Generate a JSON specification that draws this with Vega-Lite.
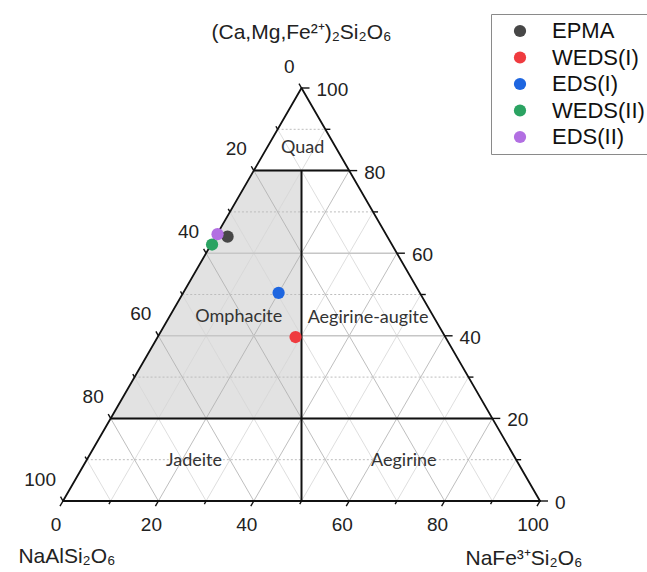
{
  "$schema": "https://vega.github.io/schema/vega-lite/v6.json",
  "width": 477,
  "height": 413,
  "autosize": {"type": "none"},
  "padding": {"left": 63, "top": 88, "right": 107, "bottom": 71},
  "background": "white",
  "config": {
    "view": {"stroke": null},
    "legend": {"strokeWidth": 1}
  },
  "datasets": {
    "points": [
      {"method": "EPMA", "Q": 64.0, "Ae": 2.5, "Jd": 33.5},
      {"method": "WEDS(I)", "Q": 39.7, "Ae": 28.9, "Jd": 31.4},
      {"method": "EDS(I)", "Q": 50.4, "Ae": 20.0, "Jd": 29.6},
      {"method": "WEDS(II)", "Q": 62.1, "Ae": 0.2, "Jd": 37.7},
      {"method": "EDS(II)", "Q": 64.6, "Ae": 0.1, "Jd": 35.3}
    ],
    "omphaciteField": [
      {"Q": 20, "Ae": 0},
      {"Q": 80, "Ae": 0}
    ],
    "hmaj": [
      {"q1": 20, "a1": 0, "q2": 20, "a2": 80},
      {"q1": 40, "a1": 0, "q2": 40, "a2": 60},
      {"q1": 60, "a1": 0, "q2": 60, "a2": 40},
      {"q1": 80, "a1": 0, "q2": 80, "a2": 20}
    ],
    "hmin": [
      {"q1": 10, "a1": 0, "q2": 10, "a2": 90},
      {"q1": 30, "a1": 0, "q2": 30, "a2": 70},
      {"q1": 50, "a1": 0, "q2": 50, "a2": 50},
      {"q1": 70, "a1": 0, "q2": 70, "a2": 30},
      {"q1": 90, "a1": 0, "q2": 90, "a2": 10}
    ],
    "dmaj": [
      {"q1": 0, "a1": 20, "q2": 80, "a2": 20},
      {"q1": 0, "a1": 40, "q2": 60, "a2": 40},
      {"q1": 0, "a1": 60, "q2": 40, "a2": 60},
      {"q1": 0, "a1": 80, "q2": 20, "a2": 80},
      {"q1": 0, "a1": 80, "q2": 80, "a2": 0},
      {"q1": 0, "a1": 60, "q2": 60, "a2": 0},
      {"q1": 0, "a1": 40, "q2": 40, "a2": 0},
      {"q1": 0, "a1": 20, "q2": 20, "a2": 0}
    ],
    "dmin": [
      {"q1": 0, "a1": 10, "q2": 90, "a2": 10},
      {"q1": 0, "a1": 30, "q2": 70, "a2": 30},
      {"q1": 0, "a1": 50, "q2": 50, "a2": 50},
      {"q1": 0, "a1": 70, "q2": 30, "a2": 70},
      {"q1": 0, "a1": 90, "q2": 10, "a2": 90},
      {"q1": 0, "a1": 90, "q2": 90, "a2": 0},
      {"q1": 0, "a1": 70, "q2": 70, "a2": 0},
      {"q1": 0, "a1": 50, "q2": 50, "a2": 0},
      {"q1": 0, "a1": 30, "q2": 30, "a2": 0},
      {"q1": 0, "a1": 10, "q2": 10, "a2": 0}
    ],
    "fieldBoundaries": [
      {"q1": 80, "a1": 0, "q2": 80, "a2": 20},
      {"q1": 20, "a1": 0, "q2": 20, "a2": 80},
      {"q1": 80, "a1": 10, "q2": 0, "a2": 50}
    ],
    "frame": [
      {"q1": 0, "a1": 0, "q2": 0, "a2": 100},
      {"q1": 0, "a1": 100, "q2": 100, "a2": 0},
      {"q1": 100, "a1": 0, "q2": 0, "a2": 0}
    ],
    "bottomTicks": [
      {"Q": 0, "Ae": 0}, {"Q": 0, "Ae": 10}, {"Q": 0, "Ae": 20}, {"Q": 0, "Ae": 30},
      {"Q": 0, "Ae": 40}, {"Q": 0, "Ae": 50}, {"Q": 0, "Ae": 60}, {"Q": 0, "Ae": 70},
      {"Q": 0, "Ae": 80}, {"Q": 0, "Ae": 90}, {"Q": 0, "Ae": 100}
    ],
    "rightTicks": [
      {"Q": 0, "Ae": 100}, {"Q": 10, "Ae": 90}, {"Q": 20, "Ae": 80}, {"Q": 30, "Ae": 70},
      {"Q": 40, "Ae": 60}, {"Q": 50, "Ae": 50}, {"Q": 60, "Ae": 40}, {"Q": 70, "Ae": 30},
      {"Q": 80, "Ae": 20}, {"Q": 90, "Ae": 10}, {"Q": 100, "Ae": 0}
    ],
    "leftTicks": [
      {"Q": 0, "Ae": 0}, {"Q": 10, "Ae": 0}, {"Q": 20, "Ae": 0}, {"Q": 30, "Ae": 0},
      {"Q": 40, "Ae": 0}, {"Q": 50, "Ae": 0}, {"Q": 60, "Ae": 0}, {"Q": 70, "Ae": 0},
      {"Q": 80, "Ae": 0}, {"Q": 90, "Ae": 0}, {"Q": 100, "Ae": 0}
    ],
    "bottomLabels": [
      {"Q": 0, "Ae": 0}, {"Q": 0, "Ae": 20}, {"Q": 0, "Ae": 40},
      {"Q": 0, "Ae": 60}, {"Q": 0, "Ae": 80}, {"Q": 0, "Ae": 100}
    ],
    "rightLabels": [
      {"Q": 0, "Ae": 100}, {"Q": 20, "Ae": 80}, {"Q": 40, "Ae": 60},
      {"Q": 60, "Ae": 40}, {"Q": 80, "Ae": 20}, {"Q": 100, "Ae": 0}
    ],
    "leftLabels": [
      {"Q": 100, "Ae": 0, "Jd": 0}, {"Q": 80, "Ae": 0, "Jd": 20}, {"Q": 60, "Ae": 0, "Jd": 40},
      {"Q": 40, "Ae": 0, "Jd": 60}, {"Q": 20, "Ae": 0, "Jd": 80}, {"Q": 0, "Ae": 0, "Jd": 100}
    ],
    "fields": [
      {"name": "Quad", "Q": 85.5, "Ae": 7.5},
      {"name": "Omphacite", "Q": 44.5, "Ae": 14.6},
      {"name": "Aegirine-augite", "Q": 44.3, "Ae": 41.8},
      {"name": "Jadeite", "Q": 9.7, "Ae": 22.6},
      {"name": "Aegirine", "Q": 9.7, "Ae": 66.6}
    ]
  },
  "encoding": {
    "x": {"field": "x", "type": "quantitative", "scale": {"domain": [0, 100], "nice": false, "zero": false}, "axis": null},
    "y": {"field": "y", "type": "quantitative", "scale": {"domain": [0, 86.60254], "nice": false, "zero": false}, "axis": null}
  },
  "layer": [
    {
      "data": {"name": "omphaciteField"},
      "transform": [
        {"calculate": "datum.Ae + datum.Q / 2", "as": "x"},
        {"calculate": "datum.Q * 0.8660254", "as": "y"}
      ],
      "mark": {"type": "area", "orient": "horizontal", "color": "#e2e2e2", "opacity": 1},
      "encoding": {"x2": {"datum": 50}}
    },
    {
      "data": {"name": "dmin"},
      "transform": [
        {"calculate": "datum.a1 + datum.q1 / 2", "as": "x"},
        {"calculate": "datum.q1 * 0.8660254", "as": "y"},
        {"calculate": "datum.a2 + datum.q2 / 2", "as": "x2"},
        {"calculate": "datum.q2 * 0.8660254", "as": "y2"}
      ],
      "mark": {"type": "rule", "color": "#d6d6d6", "strokeWidth": 0.8},
      "encoding": {"x2": {"field": "x2"}, "y2": {"field": "y2"}}
    },
    {
      "data": {"name": "dmaj"},
      "transform": [
        {"calculate": "datum.a1 + datum.q1 / 2", "as": "x"},
        {"calculate": "datum.q1 * 0.8660254", "as": "y"},
        {"calculate": "datum.a2 + datum.q2 / 2", "as": "x2"},
        {"calculate": "datum.q2 * 0.8660254", "as": "y2"}
      ],
      "mark": {"type": "rule", "color": "#adadad", "strokeWidth": 0.8},
      "encoding": {"x2": {"field": "x2"}, "y2": {"field": "y2"}}
    },
    {
      "data": {"name": "hmin"},
      "transform": [
        {"calculate": "datum.a1 + datum.q1 / 2", "as": "x"},
        {"calculate": "datum.q1 * 0.8660254", "as": "y"},
        {"calculate": "datum.a2 + datum.q2 / 2", "as": "x2"},
        {"calculate": "datum.q2 * 0.8660254", "as": "y2"}
      ],
      "mark": {"type": "rule", "color": "#bdbdbd", "strokeWidth": 1, "strokeDash": [2, 2]},
      "encoding": {"x2": {"field": "x2"}, "y2": {"field": "y2"}}
    },
    {
      "data": {"name": "hmaj"},
      "transform": [
        {"calculate": "datum.a1 + datum.q1 / 2", "as": "x"},
        {"calculate": "datum.q1 * 0.8660254", "as": "y"},
        {"calculate": "datum.a2 + datum.q2 / 2", "as": "x2"},
        {"calculate": "datum.q2 * 0.8660254", "as": "y2"}
      ],
      "mark": {"type": "rule", "color": "#c6c6c6", "strokeWidth": 1.5},
      "encoding": {"x2": {"field": "x2"}, "y2": {"field": "y2"}}
    },
    {
      "data": {"name": "fieldBoundaries"},
      "transform": [
        {"calculate": "datum.a1 + datum.q1 / 2", "as": "x"},
        {"calculate": "datum.q1 * 0.8660254", "as": "y"},
        {"calculate": "datum.a2 + datum.q2 / 2", "as": "x2"},
        {"calculate": "datum.q2 * 0.8660254", "as": "y2"}
      ],
      "mark": {"type": "rule", "color": "#111111", "strokeWidth": 2},
      "encoding": {"x2": {"field": "x2"}, "y2": {"field": "y2"}}
    },
    {
      "data": {"name": "frame"},
      "transform": [
        {"calculate": "datum.a1 + datum.q1 / 2", "as": "x"},
        {"calculate": "datum.q1 * 0.8660254", "as": "y"},
        {"calculate": "datum.a2 + datum.q2 / 2", "as": "x2"},
        {"calculate": "datum.q2 * 0.8660254", "as": "y2"}
      ],
      "mark": {"type": "rule", "color": "#111111", "strokeWidth": 1.8, "strokeCap": "round"},
      "encoding": {"x2": {"field": "x2"}, "y2": {"field": "y2"}}
    },
    {
      "data": {"name": "bottomTicks"},
      "transform": [
        {"calculate": "datum.Ae + datum.Q / 2", "as": "x"},
        {"calculate": "datum.Q * 0.8660254", "as": "y"}
      ],
      "mark": {"type": "point", "shape": "M0,0L-0.5,0.866", "filled": false, "color": "#111111", "strokeWidth": 1.4, "opacity": 1},
      "encoding": {"size": {"condition": {"test": "datum.Ae % 20 === 0", "value": 144}, "value": 49}}
    },
    {
      "data": {"name": "rightTicks"},
      "transform": [
        {"calculate": "datum.Ae + datum.Q / 2", "as": "x"},
        {"calculate": "datum.Q * 0.8660254", "as": "y"}
      ],
      "mark": {"type": "point", "shape": "M0,0L1,0", "filled": false, "color": "#111111", "strokeWidth": 1.4, "opacity": 1},
      "encoding": {"size": {"condition": {"test": "datum.Q % 20 === 0", "value": 256}, "value": 100}}
    },
    {
      "data": {"name": "leftTicks"},
      "transform": [
        {"calculate": "datum.Ae + datum.Q / 2", "as": "x"},
        {"calculate": "datum.Q * 0.8660254", "as": "y"}
      ],
      "mark": {"type": "point", "shape": "M0,0L-0.5,-0.866", "filled": false, "color": "#111111", "strokeWidth": 1.4, "opacity": 1},
      "encoding": {"size": {"condition": {"test": "datum.Q % 20 === 0", "value": 100}, "value": 49}}
    },
    {
      "data": {"name": "bottomLabels"},
      "transform": [
        {"calculate": "datum.Ae + datum.Q / 2", "as": "x"},
        {"calculate": "datum.Q * 0.8660254", "as": "y"}
      ],
      "mark": {"type": "text", "font": "Liberation Sans", "fontSize": 19, "color": "#222222", "align": "center", "baseline": "alphabetic", "dx": -7, "dy": 30},
      "encoding": {"text": {"field": "Ae", "type": "quantitative"}}
    },
    {
      "data": {"name": "rightLabels"},
      "transform": [
        {"calculate": "datum.Ae + datum.Q / 2", "as": "x"},
        {"calculate": "datum.Q * 0.8660254", "as": "y"}
      ],
      "mark": {"type": "text", "font": "Liberation Sans", "fontSize": 19, "color": "#222222", "align": "left", "baseline": "alphabetic", "dx": 15, "dy": 8},
      "encoding": {"text": {"field": "Q", "type": "quantitative"}}
    },
    {
      "data": {"name": "leftLabels"},
      "transform": [
        {"calculate": "datum.Ae + datum.Q / 2", "as": "x"},
        {"calculate": "datum.Q * 0.8660254", "as": "y"}
      ],
      "mark": {"type": "text", "font": "Liberation Sans", "fontSize": 19, "color": "#222222", "align": "right", "baseline": "alphabetic", "dx": -7, "dy": -15.5},
      "encoding": {"text": {"field": "Jd", "type": "quantitative"}}
    },
    {
      "data": {"name": "fields"},
      "transform": [
        {"calculate": "datum.Ae + datum.Q / 2", "as": "x"},
        {"calculate": "datum.Q * 0.8660254", "as": "y"}
      ],
      "mark": {"type": "text", "font": "Lato", "fontSize": 18, "color": "#333333", "align": "center", "baseline": "middle"},
      "encoding": {"text": {"field": "name", "type": "nominal"}}
    },
    {
      "data": {"values": [{"label": "(Ca,Mg,Fe²⁺)₂Si₂O₆", "Q": 100, "Ae": 0}]},
      "transform": [
        {"calculate": "datum.Ae + datum.Q / 2", "as": "x"},
        {"calculate": "datum.Q * 0.8660254", "as": "y"}
      ],
      "mark": {"type": "text", "font": "Liberation Sans", "fontSize": 21, "color": "#222222", "align": "center", "baseline": "alphabetic", "dy": -49},
      "encoding": {"text": {"field": "label", "type": "nominal"}}
    },
    {
      "data": {"values": [{"label": "NaAlSi₂O₆", "Q": 0, "Ae": 0}]},
      "transform": [
        {"calculate": "datum.Ae + datum.Q / 2", "as": "x"},
        {"calculate": "datum.Q * 0.8660254", "as": "y"}
      ],
      "mark": {"type": "text", "font": "Liberation Sans", "fontSize": 21, "color": "#222222", "align": "center", "baseline": "alphabetic", "dx": 4, "dy": 62},
      "encoding": {"text": {"field": "label", "type": "nominal"}}
    },
    {
      "data": {"values": [{"label": "NaFe³⁺Si₂O₆", "Q": 0, "Ae": 100}]},
      "transform": [
        {"calculate": "datum.Ae + datum.Q / 2", "as": "x"},
        {"calculate": "datum.Q * 0.8660254", "as": "y"}
      ],
      "mark": {"type": "text", "font": "Liberation Sans", "fontSize": 21, "color": "#222222", "align": "center", "baseline": "alphabetic", "dx": -16, "dy": 64},
      "encoding": {"text": {"field": "label", "type": "nominal"}}
    },
    {
      "data": {"name": "points"},
      "transform": [
        {"calculate": "datum.Ae + datum.Q / 2", "as": "x"},
        {"calculate": "datum.Q * 0.8660254", "as": "y"}
      ],
      "mark": {"type": "point", "shape": "circle", "filled": true, "size": 150, "opacity": 1},
      "encoding": {
        "color": {
          "field": "method",
          "type": "nominal",
          "scale": {
            "domain": ["EPMA", "WEDS(I)", "EDS(I)", "WEDS(II)", "EDS(II)"],
            "range": ["#474747", "#ef3b3f", "#1e66e0", "#2ba362", "#b26fe2"]
          },
          "legend": {
            "title": null,
            "orient": "none",
            "legendX": 428,
            "legendY": -74,
            "direction": "vertical",
            "padding": 6,
            "strokeColor": "#8a8a8a",
            "fillColor": "white",
            "labelFont": "Liberation Sans",
            "labelFontSize": 22,
            "labelColor": "#111111",
            "symbolType": "circle",
            "symbolSize": 150,
            "symbolStrokeWidth": 0,
            "symbolOffset": 12,
            "labelOffset": 21,
            "rowPadding": 4.5
          }
        },
        "order": {"field": "Q", "type": "quantitative", "sort": "ascending"}
      }
    }
  ]
}
